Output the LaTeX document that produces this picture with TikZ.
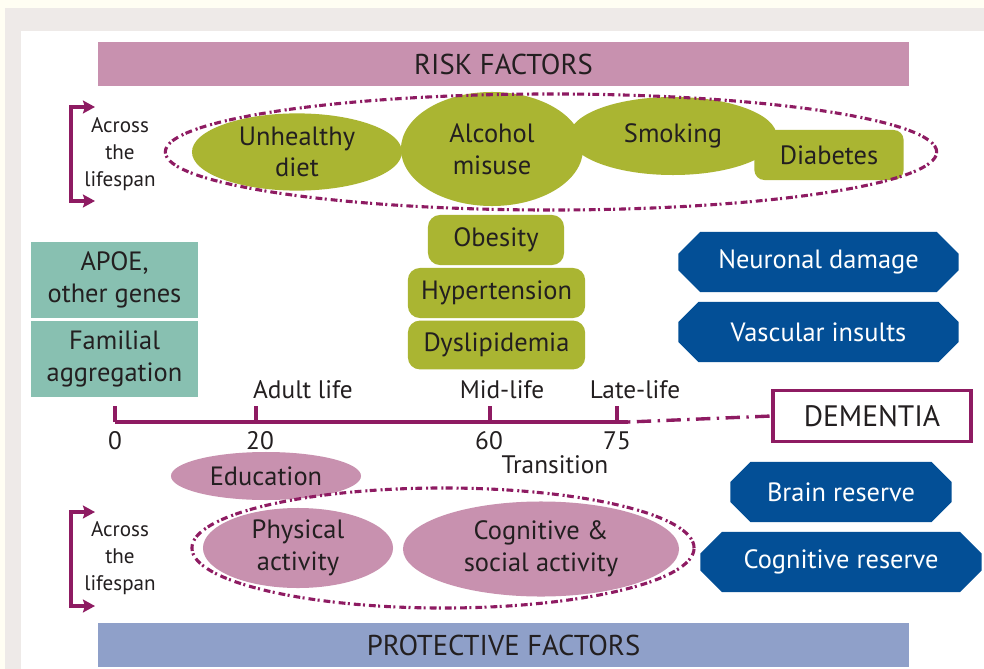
\documentclass[tikz,border=0pt]{standalone}
\usepackage{fontspec}
\setmainfont{PT Sans}
\usetikzlibrary{shapes.geometric,shapes.misc,arrows.meta}

\definecolor{pinkfill}{HTML}{C891AF}
\definecolor{bluebar}{HTML}{8FA0C9}
\definecolor{olive}{HTML}{AAB532}
\definecolor{tealfill}{HTML}{88C0B1}
\definecolor{navy}{HTML}{034F96}
\definecolor{plum}{HTML}{8E1B62}
\definecolor{ink}{HTML}{231F20}
\definecolor{cream}{HTML}{FFFEF3}
\definecolor{frame}{HTML}{EEEAE8}

\newcommand{\boxfont}{\fontsize{18.8}{22.5}\selectfont}
\newcommand{\sidefont}{\fontsize{15}{19}\selectfont}

\begin{document}
\begin{tikzpicture}[x=0.025cm,y=-0.025cm]
		\tikzstyle{Band} = [rectangle, inner sep=0pt, minimum width=20.25cm, minimum height=1.1cm, text centered, text=ink, font=\fontsize{20.4}{24}\selectfont]
		\tikzstyle{Oval} = [ellipse, inner sep=0pt, align=center, text=ink, font=\boxfont]
		\tikzstyle{Pill} = [rectangle, rounded corners=0.3cm, inner sep=0pt, align=center, text=ink, font=\boxfont, fill=olive]
		\tikzstyle{Gene} = [rectangle, inner sep=0pt, minimum width=4.15cm, minimum height=1.9cm, align=center, text=ink, font=\boxfont, fill=tealfill]
		\tikzstyle{Mech} = [chamfered rectangle, chamfered rectangle xsep=0.28cm, chamfered rectangle ysep=0.26cm, inner sep=0pt, minimum height=1.5cm, align=center, text=white, font=\boxfont, fill=navy]
		\tikzstyle{Ring} = [ellipse, draw=plum, line width=2.2pt, dash pattern=on 0.17cm off 0.06cm on 0.05cm off 0.1cm]
		\tikzstyle{Label} = [inner sep=1pt, text=ink, font=\fontsize{18}{22}\selectfont]
		\tikzstyle{Side} = [align=center, inner sep=0pt, text=ink, font=\sidefont]
		\tikzstyle{arrow} = [plum, line width=2.2pt, ->, >={Stealth[length=0.3cm,width=0.32cm,inset=0.05cm]}]
		\tikzstyle{axis} = [plum, line width=2.4pt]

		% background frame
		\fill[cream] (0,0) rectangle (984,669);
		\fill[frame] (5,8) rectangle (984,669);
		\fill[white] (21,31) rectangle (984,669);
		\useasboundingbox (0,0) rectangle (984,669);

		% bands
		\node (risk) [Band, fill=pinkfill] at (503.5,64) {RISK FACTORS};
		\node (protect) [Band, fill=bluebar] at (503.5,645) {PROTECTIVE FACTORS};

		% risk factors across the lifespan
		\node (diet) [Oval, fill=olive, minimum width=5.25cm, minimum height=1.93cm] at (297,152) {Unhealthy\\diet};
		\node (smoking) [Oval, fill=olive, minimum width=5.18cm, minimum height=1.95cm] at (673,136) {Smoking};
		\node (alcohol) [Oval, fill=olive, minimum width=4.55cm, minimum height=2.85cm] at (492,149) {Alcohol\\misuse};
		\node (diabetes) [Pill, minimum width=3.73cm, minimum height=1.25cm, rounded corners=0.25cm] at (829,155) {Diabetes};
		\node (obesity) [Pill, minimum width=3.4cm, minimum height=1.25cm] at (496,240) {Obesity};
		\node (hyper) [Pill, minimum width=4.43cm, minimum height=1.25cm] at (496.5,293) {Hypertension};
		\node (dyslip) [Pill, minimum width=4.43cm, minimum height=1.22cm] at (496.5,345) {Dyslipidemia};

		% genes
		\node (apoe) [Gene] at (114.5,280) {APOE,\\other genes};
		\node (familial) [Gene] at (114.5,359) {Familial\\aggregation};

		% mechanisms
		\node (neuronal) [Mech, minimum width=7cm] at (818.5,262) {Neuronal damage};
		\node (vascular) [Mech, minimum width=7cm] at (818.5,332) {Vascular insults};
		\node (brain) [Mech, minimum width=5.53cm] at (841,492) {Brain reserve};
		\node (cogres) [Mech, minimum width=7.03cm] at (841,562) {Cognitive reserve};

		% timeline
		\node (dementia) [rectangle, draw=plum, line width=2.2pt, fill=white, minimum width=4.95cm, minimum height=1.28cm, text=ink, font=\fontsize{21}{24}\selectfont] at (872,416) {DEMENTIA};
		\coordinate (t0) at (115,422);
		\coordinate (t20) at (256,422);
		\coordinate (t60) at (490,422);
		\coordinate (t75) at (617,422);
		\coordinate (tend) at (628,422);
		\draw [axis] (t0) -- (tend);
		\draw [axis, dash pattern=on 0.06cm off 0.16cm on 0.36cm off 0.16cm] (tend) -- (dementia.west);
		\foreach \t in {t0,t20,t60,t75}
			\draw [axis] (\t) -- ++(0,-16);
		\node (a0) [Label] at (115,441) {0};
		\node (a20) [Label] at (260,441) {20};
		\node (a60) [Label] at (489,441) {60};
		\node (a75) [Label] at (617,441) {75};
		\node (adult) [Label] at (303,390) {Adult life};
		\node (mid) [Label] at (502,390) {Mid-life};
		\node (late) [Label] at (635,390) {Late-life};
		\node (transition) [Label] at (555,465) {Transition};

		% protective factors
		\node (education) [Oval, fill=pinkfill, minimum width=4.75cm, minimum height=1.2cm] at (266,476) {Education};
		\node (physical) [Oval, fill=pinkfill, minimum width=4.75cm, minimum height=2cm] at (298,548) {Physical\\activity};
		\node (social) [Oval, fill=pinkfill, minimum width=6.9cm, minimum height=2.375cm] at (541,549) {Cognitive \&\\social activity};

		% dotted rings
		\node (riskring) [Ring, minimum width=19.28cm, minimum height=2.9cm] at (551,152) {};
		\node (protring) [Ring, minimum width=12.55cm, minimum height=3cm] at (443,548) {};

		% across the lifespan brackets
		\node (acrossA) [Side] at (120,154) {Across\\the\\lifespan};
		\node (acrossB) [Side] at (120,558) {Across\\the\\lifespan};
		\coordinate (bA) at (71,154);
		\coordinate (bB) at (71,559);
		\draw [arrow] (bA) |- (95,107);
		\draw [arrow] (bA) |- (95,201);
		\draw [arrow] (bB) |- (95,512);
		\draw [arrow] (bB) |- (95,606);
\end{tikzpicture}
\end{document}
